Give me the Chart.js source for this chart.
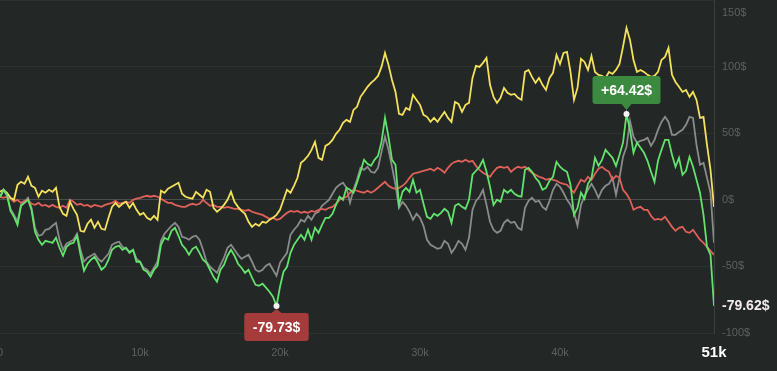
<!DOCTYPE html>
<html>
<head>
<meta charset="utf-8">
<script src="https://cdn.jsdelivr.net/npm/chart.js@4.4.1/dist/chart.umd.min.js"></script>
<style>
  html, body { margin: 0; padding: 0; background: #232726; }
  #wrap { width: 777px; height: 371px; position: relative; }
</style>
</head>
<body>
<div id="wrap"><canvas id="pnl"></canvas></div>
<script>
// x positions, in thousands
const steps = [
  0,0.25,0.5,0.75,1,1.25,1.5,1.75,2,2.25,2.5,2.75,3,3.25,3.5,3.75,4,4.25,4.5,4.75,
  5,5.25,5.5,5.75,6,6.25,6.5,6.75,7,7.25,7.5,7.75,8,8.25,8.5,8.75,9,9.25,9.5,9.75,
  10,10.25,10.5,10.75,11,11.25,11.5,11.75,12,12.25,12.5,12.75,13,13.25,13.5,13.75,14,14.25,14.5,14.75,
  15,15.25,15.5,15.75,16,16.25,16.5,16.75,17,17.25,17.5,17.75,18,18.25,18.5,18.75,19,19.25,19.5,19.75,
  20,20.25,20.5,20.75,21,21.25,21.5,21.75,22,22.25,22.5,22.75,23,23.25,23.5,23.75,24,24.25,24.5,24.75,
  25,25.25,25.5,25.75,26,26.25,26.5,26.75,27,27.25,27.5,27.75,28,28.25,28.5,28.75,29,29.25,29.5,29.75,
  30,30.25,30.5,30.75,31,31.25,31.5,31.75,32,32.25,32.5,32.75,33,33.25,33.5,33.75,34,34.25,34.5,34.75,
  35,35.25,35.5,35.75,36,36.25,36.5,36.75,37,37.25,37.5,37.75,38,38.25,38.5,38.75,39,39.25,39.5,39.75,
  40,40.25,40.5,40.75,41,41.25,41.5,41.75,42,42.25,42.5,42.75,43,43.25,43.5,43.75,44,44.25,44.5,44.75,
  45,45.25,45.5,45.75,46,46.25,46.5,46.75,47,47.25,47.5,47.75,48,48.25,48.5,48.75,49,49.25,49.5,49.75,
  50,50.25,50.5,50.75,51
];

const greenLine = [
  2.3, 7.5, 3.8, -8.3, -12.8, -18.8, -4.5, -2.3, 0, -7.5,
  -24, -30, -33.8, -30.8, -31.5, -32.3, -28.5, -36, -42, -35.3,
  -33, -32.3, -27, -41.3, -53.3, -48, -45, -42.8, -47.3, -52.5,
  -50.3, -45, -37.5, -35.3, -34.5, -37.5, -36, -39.8, -37.5, -46.5,
  -46.5, -52.5, -54, -57.8, -52.5, -49.5, -33.8, -28.5, -30, -23.3,
  -21, -27, -33.8, -36.8, -41.3, -36.8, -35.3, -39.8, -45, -47.3,
  -52.5, -57.8, -61.5, -52.5, -48.8, -42, -37.5, -42, -48, -51,
  -54.8, -52.5, -58.5, -63.8, -64.5, -63, -66, -69, -72.8, -79.73,
  -65.3, -54, -50.3, -39.8, -33.8, -30, -26.3, -30, -22.5, -30,
  -21, -24.8, -18.8, -13.5, -13.5, -10.5, -3.8, 2.3, 0, 9,
  7.5, 5.3, 12.8, 21, 30, 27, 25.5, 30, 33, 43.5,
  61.5, 47.3, 30, 26.3, -3.8, 6, 9, 6, 15, 5.3,
  7.5, -3, -12.8, -14.3, -10.5, -12, -9.8, -6.8, -9, -17.3,
  -4.5, -3, -5.3, -6.8, 0, 18.8, 21.8, 24.8, 30, 21,
  9.8, -3.8, 0, -1.5, 7.5, 5.3, 7.5, 4.5, 3, 2.3,
  22.5, 24, 21, 16.5, 13.5, 7.5, 9, 14.3, 17.3, 28.5,
  24.8, 22.5, 21, 11.3, -11.3, -6, 5.3, 0.8, 12, 16.5,
  31.5, 25.5, 30, 37.5, 34.5, 31.5, 25.5, 33.8, 42.8, 64.42,
  52.5, 35.3, 42.8, 39, 35.3, 29.3, 21, 13.5, 29.3, 37.5,
  45, 45, 33.8, 24.8, 31.5, 18.8, 21.8, 32.3, 24.8, 15,
  5.3, -11.3, -35.3, -41.3, -79.62
];

const yellowLine = [
  6, 7.5, 5.3, 1.5, 0, 11.3, 13.5, 12, 17.3, 10.5,
  9, 2.3, 6.8, 5.3, 7.5, 6, 9, -5.3, -10.5, -12,
  -1.5, -6.8, -11.3, -23.3, -24, -18, -15, -21, -16.5, -21.8,
  -22.5, -13.5, -5.3, -2.3, -5.3, -3, -1.5, -6, -2.3, -7.5,
  -11.3, -9.8, -13.5, -15, -12, -15, 6.8, 5.3, 8.3, 9.8,
  11.3, 12.8, 4.5, 2.3, 1.5, 0.8, 6, 3.8, 1.5, 7.5,
  6, -6, -9, -6.8, -3.8, 0, 6, -1.5, -5.3, -8.3,
  -10.5, -16.5, -20.3, -18, -19.5, -16.5, -17.3, -15, -13.5, -11.3,
  -7.5, 0, 7.5, 5.3, 10.5, 16.5, 27.8, 30, 33, 37.5,
  43.5, 31.5, 30, 40.5, 42, 45, 49.5, 52.5, 57.8, 60,
  58.5, 67.5, 69.8, 77.3, 81, 84.8, 87.8, 90, 93, 99.8,
  110.3, 101.3, 90, 81, 64.5, 63.8, 69, 67.5, 78.8, 75,
  71.3, 63.8, 62.3, 58.5, 61.5, 58.5, 62.3, 66, 61.5, 58.5,
  73.5, 72, 66, 71.3, 72.8, 91.5, 100.5, 99.8, 102.8, 106.5,
  86.3, 77.3, 72.8, 76.5, 84, 80.3, 78.8, 79.5, 76.5, 75,
  96, 97.5, 92.3, 87.8, 91.5, 86.3, 82.5, 91.5, 95.3, 108.8,
  102, 110.3, 111, 96, 75, 84, 105.8, 103.5, 97.5, 108,
  96, 93.8, 93, 91.5, 96, 94.5, 97.5, 102, 114.8, 129,
  120, 105, 96, 97.5, 96, 93.8, 92.3, 93, 96, 105,
  107.3, 114, 93.8, 88.5, 84.8, 81, 82.5, 77.3, 81, 75,
  61.5, 62.3, 41.3, 22.5, -5.3
];

const redLine = [
  2.3, 1.5, 2.3, 0.8, -1.5, 0, -2.3, -0.8, 0, -3,
  -3.8, -2.3, -4.5, -3.8, -5.3, -3.8, -5.3, -6, -4.5, -6,
  0, -1.5, -3.8, -3, -4.5, -3.8, -5.3, -3.8, -4.5, -5.3,
  -3.8, -3, -2.3, -0.8, -3, -2.3, -1.5, -2.3, 0, 0.8,
  1.5, 2.3, 3, 2.3, 3, 2.3, 0.8, -0.8, -2.3, -2.3,
  -3.8, -4.5, -5.3, -5.3, -3.8, -3, -3.8, -3, 0, -2.3,
  -4.5, -3.8, -5.3, -5.3, -6, -5.3, -6, -6.8, -6.8, -7.5,
  -8.3, -7.5, -9, -9.8, -10.5, -11.3, -12.8, -14.3, -13.5, -15,
  -14.3, -12, -9.8, -8.3, -9, -8.3, -9.8, -9, -9.8, -8.3,
  -9, -7.5, -6.8, -7.5, -6, -5.3, -3, 0, 1.5, 2.3,
  5.3, 7.5, 6.8, 6, 5.3, 6.8, 5.3, 6.8, 9, 11.3,
  13.5, 10.5, 9, 8.3, 9, 10.5, 12.8, 16.5, 19.5, 20.3,
  21, 21.8, 22.5, 23.3, 21.8, 24, 22.5, 20.3, 24, 27,
  28.5, 29.3, 28.5, 30, 28.5, 29.3, 25.5, 22.5, 20.3, 18.8,
  17.3, 21, 24, 24.8, 24, 24.8, 21, 23.3, 24.8, 24,
  24.8, 22.5, 20.3, 18.8, 17.3, 16.5, 15, 15.8, 15, 14.3,
  12.8, 12, 11.3, 8.3, 5.3, 10.5, 15, 13.5, 17.3, 15,
  19.5, 23.3, 24.8, 22.5, 21, 15, 18, 16.5, 7.5, 4.5,
  0, -7.5, -6, -5.3, -7.5, -7.5, -12, -15, -14.3, -15,
  -12.8, -16.5, -20.3, -23.3, -21, -20.3, -24, -24.8, -22.5, -26.3,
  -30, -32.3, -35.3, -38.3, -41.3
];

const grayLine = [
  1.5, 7.5, 3, -6.8, -11.3, -16.5, -3.8, -1.5, 1.5, -6,
  -21, -27, -26.3, -22.5, -21.8, -19.5, -17.3, -30, -37.5, -33,
  -31.5, -30, -25.5, -37.5, -46.5, -43.5, -42, -40.5, -44.3, -46.5,
  -43.5, -40.5, -33.8, -32.3, -31.5, -35.3, -36.8, -39, -37.5, -44.3,
  -46.5, -51, -52.5, -55.5, -51, -46.5, -30.8, -25.5, -22.5, -19.5,
  -17.3, -20.3, -27.8, -28.5, -30, -27.8, -27, -30, -37.5, -46.5,
  -50.3, -52.5, -54.8, -48.8, -43.5, -36, -33.8, -37.5, -41.3, -44.3,
  -42.8, -41.3, -46.5, -52.5, -54, -52.5, -49.5, -48, -52.5, -57,
  -47.3, -43.5, -39.8, -26.3, -22.5, -19.5, -15, -16.5, -12, -15,
  -10.5, -9, -4.5, -2.3, 0, 4.5, 9, 11.3, 12.8, 9,
  -2.3, 7.5, 15, 24, 22.5, 24.8, 21, 20.3, 24, 36,
  47.3, 37.5, 24.8, 11.3, -6, -1.5, -4.5, -9, -15, -10.5,
  -13.5, -19.5, -30, -33.8, -35.3, -36.8, -36, -30.8, -33, -39.8,
  -36, -30.8, -33, -37.5, -28.5, -7.5, -0.8, 2.3, 7.5, -3.8,
  -16.5, -22.5, -24.8, -23.3, -17.3, -15, -17.3, -16.5, -21, -22.5,
  -6, -0.8, 1.5, -1.5, -0.8, -5.3, -7.5, -0.8, 7.5, 12,
  9.8, 5.3, 0, -3.8, -9.8, -19.5, -3.8, 3, 7.5, 12,
  7.5, 1.5, 7.5, 10.5, 12, 16.5, 3.8, 16.5, 32.3, 39.8,
  59.3, 47.3, 42.8, 44.3, 45, 46.5, 40.5, 45, 52.5, 58.5,
  62.3, 58.5, 48.8, 48.8, 51, 52.5, 56.3, 62.3, 61.5, 41.3,
  26.3, 27.8, 16.5, 5.3, -32.3
];

const xTicks = [0, 10, 20, 30, 40, 51];
const xTickLabels = ['0', '10k', '20k', '30k', '40k', '51k'];
const yTicks = [150, 100, 50, 0, -50, -100];
const yTickLabels = ['150$', '100$', '50$', '0$', '-50$', '-100$'];

const lastValue = greenLine[greenLine.length - 1];
const lastX = xTicks[xTicks.length - 1];
const FONT = '"Liberation Sans", Arial, sans-serif';
const dimText = '#5c6261';

const background = {
    id: 'background',
    beforeDraw(chart) {
        const c = chart.ctx;
        c.save();
        c.fillStyle = '#232726';
        c.fillRect(0, 0, chart.width, chart.height);
        c.restore();
    }
};

function drawTag(c, pt, text, color, above) {
    c.save();
    c.font = 'bold 14px ' + FONT;
    const w = c.measureText(text).width + 17;
    const h = 28;
    const x = pt.x - w / 2;
    const top = above ? pt.y - 10 - h : pt.y + 7;
    const r = 3;

    c.fillStyle = color;
    c.beginPath();
    c.moveTo(x + r, top);
    c.lineTo(x + w - r, top);
    c.quadraticCurveTo(x + w, top, x + w, top + r);
    c.lineTo(x + w, top + h - r);
    c.quadraticCurveTo(x + w, top + h, x + w - r, top + h);
    c.lineTo(x + r, top + h);
    c.quadraticCurveTo(x, top + h, x, top + h - r);
    c.lineTo(x, top + r);
    c.quadraticCurveTo(x, top, x + r, top);
    c.closePath();
    c.fill();

    // little pointer toward the point
    c.beginPath();
    if (above) {
        c.moveTo(pt.x - 5, top + h);
        c.lineTo(pt.x + 5, top + h);
        c.lineTo(pt.x, pt.y - 4);
    } else {
        c.moveTo(pt.x - 5, top);
        c.lineTo(pt.x + 5, top);
        c.lineTo(pt.x, pt.y + 3);
    }
    c.closePath();
    c.fill();

    c.fillStyle = '#ffffff';
    c.textAlign = 'center';
    c.textBaseline = 'middle';
    c.fillText(text, pt.x, top + h / 2 + 1);

    c.fillStyle = '#f2f2f2';
    c.beginPath();
    c.arc(pt.x, pt.y, 3, 0, Math.PI * 2);
    c.fill();
    c.restore();
}

const extremes = {
    id: 'extremes',
    afterDatasetsDraw(chart) {
        const meta = chart.getDatasetMeta(0);
        const hi = greenLine.indexOf(Math.max(...greenLine));
        const lo = greenLine.indexOf(Math.min(...greenLine));
        drawTag(chart.ctx, meta.data[hi], '+' + greenLine[hi].toFixed(2) + '$', '#3b8a40', true);
        drawTag(chart.ctx, meta.data[lo], greenLine[lo].toFixed(2) + '$', '#a63b3b', false);
    }
};

function line(data, color) {
    return {
        data: data,
        borderColor: color,
        borderWidth: 1.8,
        pointRadius: 0,
        tension: 0,
        fill: false
    };
}

new Chart(document.getElementById('pnl'), {
    type: 'line',
    data: {
        labels: steps,
        datasets: [
            line(greenLine, '#63e26d'),
            line(yellowLine, '#f4e15c'),
            line(redLine, '#e0605a'),
            line(grayLine, '#8b8b8b')
        ]
    },
    options: {
        responsive: true,
        maintainAspectRatio: false,
        animation: false,
        layout: { padding: 0 },
        plugins: {
            legend: { display: false },
            tooltip: { enabled: false }
        },
        scales: {
            x: {
                type: 'linear',
                min: 0,
                max: lastX,
                grid: { display: false, drawTicks: false },
                border: { display: false },
                afterBuildTicks: axis => {
                    axis.ticks = xTicks.map(v => ({ value: v }));
                },
                afterFit: axis => {
                    axis.height = 38;
                    axis.paddingLeft = 0;
                    axis.paddingRight = 0;
                },
                ticks: {
                    autoSkip: false,
                    maxRotation: 0,
                    padding: 13,
                    callback: v => xTickLabels[xTicks.indexOf(v)],
                    color: ctx => (ctx.tick && ctx.tick.value === lastX) ? '#ffffff' : dimText,
                    font: ctx => (ctx.tick && ctx.tick.value === lastX)
                        ? { family: FONT, size: 15, weight: 'bold', lineHeight: 0.85 }
                        : { family: FONT, size: 11 }
                }
            },
            y: {
                position: 'right',
                min: -100,
                max: 150,
                border: { display: true, color: '#3b403f', width: 1 },
                grid: {
                    drawTicks: false,
                    lineWidth: 1,
                    color: ctx => {
                        if (!ctx.tick) return '#2d3231';
                        if (ctx.tick.value === lastValue) return 'rgba(0,0,0,0)';
                        if (ctx.tick.value === 0) return '#4a504e';
                        return '#2d3231';
                    }
                },
                afterBuildTicks: axis => {
                    axis.ticks = [...yTicks, lastValue].sort((a, b) => a - b).map(v => ({ value: v }));
                },
                afterFit: axis => {
                    axis.width = 63;
                    axis.paddingTop = 0;
                    axis.paddingBottom = 0;
                },
                ticks: {
                    autoSkip: false,
                    padding: 8,
                    callback: v => {
                        if (v === lastValue) return lastValue.toFixed(2) + '$';
                        const label = yTickLabels[yTicks.indexOf(v)];
                        // keep the top label inside the canvas
                        return v === yTicks[0] ? ['', '', label] : label;
                    },
                    color: ctx => (ctx.tick && ctx.tick.value === lastValue) ? '#f3ecec' : dimText,
                    font: ctx => (ctx.tick && ctx.tick.value === lastValue)
                        ? { family: FONT, size: 14, weight: 'bold' }
                        : { family: FONT, size: 11 }
                }
            }
        }
    },
    plugins: [background, extremes]
});
</script>
</body>
</html>
